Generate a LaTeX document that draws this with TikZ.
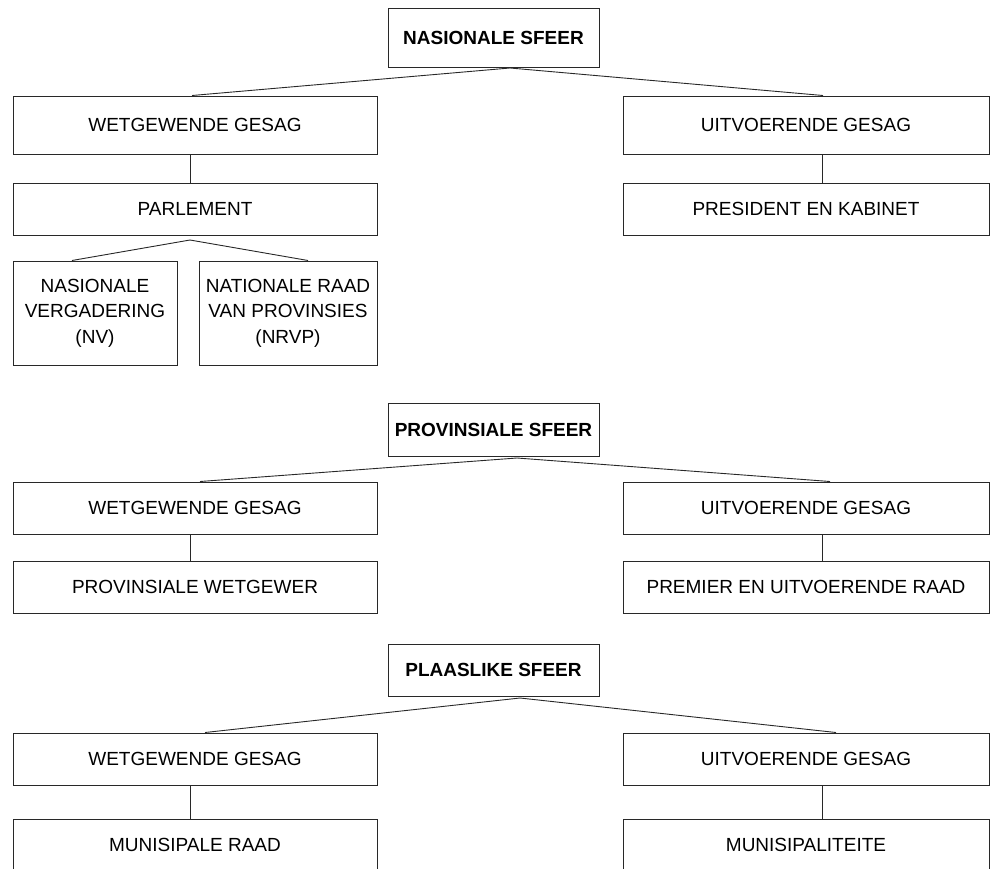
\documentclass[tikz,border=0pt]{standalone}
\usepackage{fontspec}
\usepackage{tikz}
\usepackage{xcolor}
\setmainfont{Liberation Sans}
\definecolor{boxline}{RGB}{40, 40, 40}
\tikzset{
    box/.style={draw=boxline, line width=1pt, inner sep=0pt, align=center,
        font=\fontsize{19}{25.5}\selectfont},
    sfeer/.style={box, minimum width=211pt, font=\fontsize{19}{25.5}\selectfont\bfseries},
    gesag/.style={box, minimum width=364pt, minimum height=52pt},
    regs/.style={box, minimum width=366pt, minimum height=52pt},
    link/.style={draw=boxline, line width=0.9pt}
}
\begin{document}
\begin{tikzpicture}[x=1pt, y=-1pt]
    \useasboundingbox (0,0) rectangle (990,868);
    \clip (0,0) rectangle (990,868);
    % nasionale sfeer
    \node[sfeer, minimum height=59pt] (nsfeer) at (493.5,37.5) {NASIONALE SFEER};
    \node[gesag, minimum height=58pt] (nwet) at (195,125) {WETGEWENDE GESAG};
    \node[regs, minimum height=58pt] (nuit) at (806,125) {UITVOERENDE GESAG};
    \node[gesag] (parl) at (195,209) {PARLEMENT};
    \node[regs] (pres) at (806,209) {PRESIDENT EN KABINET};
    \node[box, minimum width=164pt, minimum height=104pt] (nv) at (95,313)
        {NASIONALE\\VERGADERING\\(NV)};
    \node[box, minimum width=178pt, minimum height=104pt] (nrvp) at (288,313)
        {NATIONALE RAAD\\VAN PROVINSIES\\(NRVP)};
    \coordinate (ntop) at (510,68);
    \coordinate (ptop) at (190,240);
    \draw[link] ([xshift=-3pt]nwet.north) -- (ntop) -- ([xshift=17pt]nuit.north);
    \draw[link] ([xshift=-5pt]nwet.south) -- ([xshift=-5pt]parl.north);
    \draw[link] ([xshift=16pt]nuit.south) -- ([xshift=16pt]pres.north);
    \draw[link] ([xshift=-23pt]nv.north) -- (ptop) -- ([xshift=20pt]nrvp.north);
    % provinsiale sfeer
    \node[sfeer, minimum height=53pt] (psfeer) at (493.5,429.5) {PROVINSIALE SFEER};
    \node[gesag] (pwet) at (195,508) {WETGEWENDE GESAG};
    \node[regs] (puit) at (806,508) {UITVOERENDE GESAG};
    \node[gesag] (pwetg) at (195,587) {PROVINSIALE WETGEWER};
    \node[regs] (prem) at (806,587) {PREMIER EN UITVOERENDE RAAD};
    \coordinate (prtop) at (517,458);
    \draw[link] ([xshift=5pt]pwet.north) -- (prtop) -- ([xshift=24pt]puit.north);
    \draw[link] ([xshift=-5pt]pwet.south) -- ([xshift=-5pt]pwetg.north);
    \draw[link] ([xshift=16pt]puit.south) -- ([xshift=16pt]prem.north);
    % plaaslike sfeer
    \node[sfeer, minimum height=52pt] (lsfeer) at (493.5,670) {PLAASLIKE SFEER};
    \node[gesag] (lwet) at (195,759) {WETGEWENDE GESAG};
    \node[regs] (luit) at (806,759) {UITVOERENDE GESAG};
    \node[gesag] (mraad) at (195,845) {MUNISIPALE RAAD};
    \node[regs] (munis) at (806,845) {MUNISIPALITEITE};
    \coordinate (ltop) at (520,698);
    \draw[link] ([xshift=10pt]lwet.north) -- (ltop) -- ([xshift=30pt]luit.north);
    \draw[link] ([xshift=-5pt]lwet.south) -- ([xshift=-5pt]mraad.north);
    \draw[link] ([xshift=16pt]luit.south) -- ([xshift=16pt]munis.north);
\end{tikzpicture}
\end{document}
